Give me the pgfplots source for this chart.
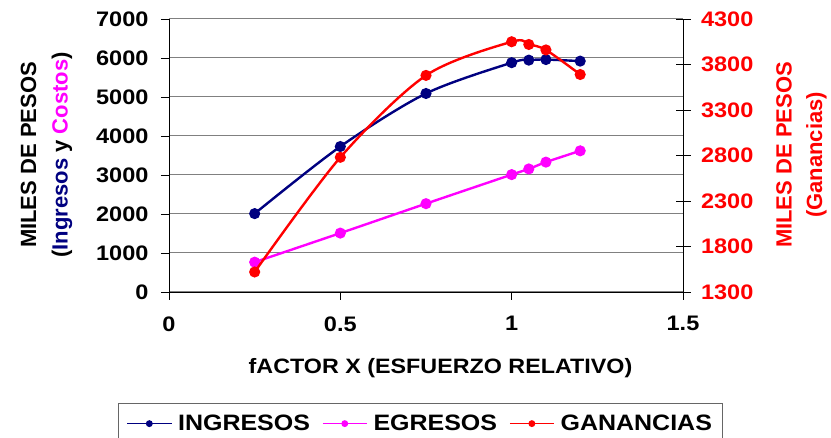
\documentclass[border=0pt]{standalone}
\usepackage{fontspec}
\setmainfont{Liberation Sans}
\newfontfamily\wide{Liberation Sans}[FakeStretch=1.12]
\usepackage{pgfplots}
\pgfplotsset{compat=1.18}
\definecolor{navyc}{HTML}{000080}
\definecolor{magc}{HTML}{FF00FF}
\definecolor{redc}{HTML}{FF0000}
\begin{document}
\begin{tikzpicture}
\useasboundingbox (0,0) rectangle (831pt,438pt);
\begin{axis}[
  at={(169pt,146pt)}, anchor=south west, scale only axis,
  width=514pt, height=273pt,
  xmin=0, xmax=1.5, ymin=0, ymax=7000,
  xtick={0,0.5,1,1.5}, ytick={0,1000,...,7000},
  axis x line*=bottom, axis y line*=left,
  ymajorgrids, major grid style={line width=1pt, black!50},
  tick align=outside, major tick length=8pt,
  tick style={black, line width=0.8pt},
  axis line style={line width=0.8pt, -},
  /pgf/number format/assume math mode=true,
  /pgf/number format/set thousands separator={},
  ticklabel style={font=\wide\bfseries\fontsize{21}{21}\selectfont},
  xticklabel style={yshift=-13pt},
  yticklabel style={xshift=-9pt},
  legend style={at={(axis description cs:-0.099,-0.4055)}, anchor=north west,
    legend columns=3, draw=black!60, line width=0.8pt,
    font=\wide\bfseries\fontsize{22.3}{22.3}\selectfont,
    inner xsep=8pt, inner ysep=10pt,
    /tikz/every odd column/.append style={column sep=4pt},
    /tikz/every even column/.append style={column sep=10pt}},
  legend cell align=left,
  legend image code/.code={\draw[mark repeat=2,mark phase=2,#1,line width=1.6pt,mark size=2.6pt] plot coordinates {(0pt,0pt) (22pt,0pt) (44pt,0pt)};},
]
\addplot[navyc, line width=2.4pt, smooth, mark=*, mark size=4.3pt, mark options={solid}] coordinates {
  (0.25,2010) (0.5,3730) (0.75,5090) (1.0,5880) (1.05,5945) (1.1,5960) (1.2,5920)};
\addlegendentry{INGRESOS}
\addplot[magc, line width=2.4pt, smooth, mark=*, mark size=4.3pt] coordinates {
  (0.25,765) (0.5,1510) (0.75,2265) (1.0,3010) (1.05,3155) (1.1,3330) (1.2,3620)};
\addlegendentry{EGRESOS}
\addlegendimage{redc, line width=2.4pt, mark=*}
\addlegendentry{GANANCIAS}
\end{axis}
\begin{axis}[
  at={(169pt,146pt)}, anchor=south west, scale only axis,
  width=514pt, height=273pt,
  xmin=0, xmax=1.5, ymin=1300, ymax=4300,
  ytick={1300,1800,...,4300},
  axis y line*=right, axis x line=none,
  tick align=center, major tick length=15pt,
  tick style={black, line width=0.8pt},
  axis line style={line width=0.8pt, -},
  /pgf/number format/assume math mode=true,
  /pgf/number format/set thousands separator={},
  yticklabel style={text=redc, font=\wide\bfseries\fontsize{21}{21}\selectfont, xshift=7pt},
]
\addplot[redc, line width=2.4pt, smooth, mark=*, mark size=4.3pt] coordinates {
  (0.25,1520) (0.5,2780) (0.75,3680) (1.0,4050) (1.05,4020) (1.1,3960) (1.2,3690)};
\end{axis}
\node[rotate=90, anchor=base, font=\bfseries\fontsize{22}{22}\selectfont] at (36pt,283pt) {MILES DE PESOS};
\node[rotate=90, anchor=base, font=\bfseries\fontsize{22}{22}\selectfont] at (67.5pt,283pt) {(\textcolor{navyc}{Ingresos} y \textcolor{magc}{Costos})};
\node[rotate=90, anchor=base, text=redc, font=\bfseries\fontsize{22}{22}\selectfont] at (791.7pt,283pt) {MILES DE PESOS};
\node[rotate=90, anchor=base, text=redc, font=\bfseries\fontsize{22}{22}\selectfont] at (822pt,283pt) {(Ganancias)};
\node[anchor=base, font=\wide\bfseries\fontsize{20.8}{20.8}\selectfont] at (440.5pt,64pt) {fACTOR X (ESFUERZO RELATIVO)};
\end{tikzpicture}
\end{document}
